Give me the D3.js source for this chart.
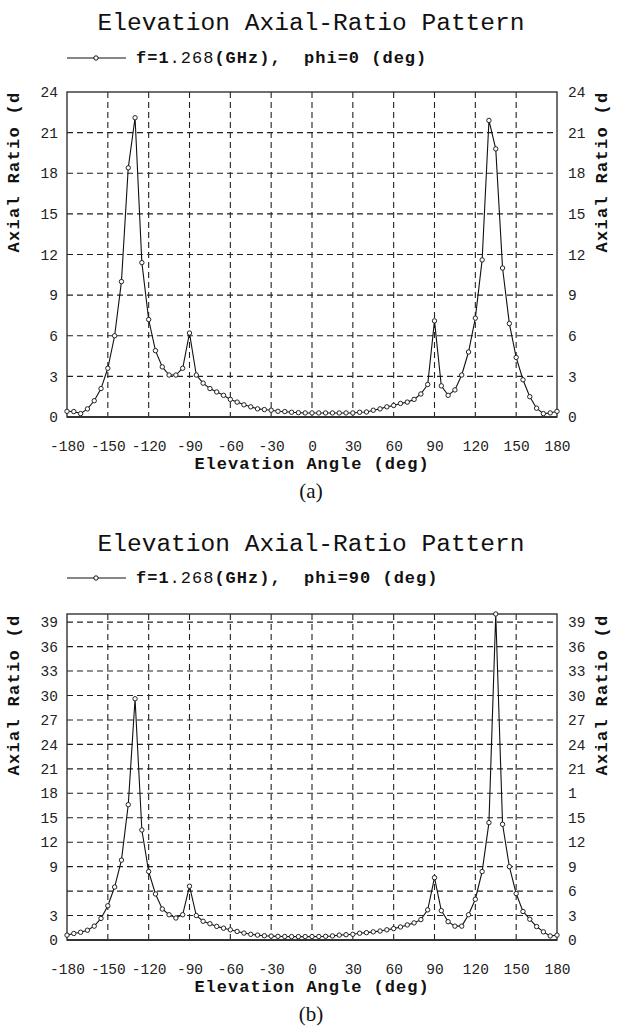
<!DOCTYPE html>
<html><head><meta charset="utf-8">
<script src="https://cdn.jsdelivr.net/npm/d3@7"></script>
<style>
html,body{margin:0;padding:0;background:#fff;}
svg{display:block;}
</style></head>
<body>
<script>
// ---- data ----
const angles = [-180,-175,-170,-165,-160,-155,-150,-145,-140,-135,-130,-125,-120,-115,-110,-105,-100,-95,-90,-85,-80,-75,-70,-65,-60,-55,-50,-45,-40,-35,-30,-25,-20,-15,-10,-5,0,5,10,15,20,25,30,35,40,45,50,55,60,65,70,75,80,85,90,95,100,105,110,115,120,125,130,135,140,145,150,155,160,165,170,175,180];
const axialRatioPhi0 = [0.42,0.4,0.25,0.6,1.2,2.1,3.6,6.0,10.0,18.4,22.1,11.4,7.2,4.9,3.7,3.1,3.1,3.6,6.2,3.1,2.5,2.1,1.85,1.6,1.3,1.1,0.9,0.75,0.6,0.55,0.5,0.42,0.4,0.35,0.32,0.3,0.3,0.3,0.3,0.3,0.3,0.3,0.3,0.35,0.37,0.5,0.6,0.75,0.85,1.0,1.1,1.3,1.7,2.4,7.1,2.3,1.6,2.0,3.1,4.8,7.3,11.6,21.9,19.8,11.0,6.9,4.4,2.75,1.5,0.65,0.25,0.3,0.42];
const axialRatioPhi90 = [0.6,0.8,0.95,1.2,1.7,2.65,4.2,6.5,9.8,16.6,29.6,13.5,8.4,5.65,3.8,3.1,2.7,3.1,6.6,3.0,2.3,2.0,1.67,1.45,1.25,1.05,0.85,0.7,0.6,0.52,0.48,0.45,0.43,0.42,0.42,0.42,0.42,0.43,0.45,0.5,0.6,0.65,0.7,0.83,0.9,1.0,1.1,1.25,1.4,1.6,1.85,2.1,2.5,3.7,7.65,3.6,2.25,1.7,1.7,3.1,5.0,8.4,14.4,40.0,14.2,9.0,5.7,3.5,2.55,1.65,1.0,0.5,0.6];
const xTicks = [-180,-150,-120,-90,-60,-30,0,30,60,90,120,150,180];
const yTicksA = [0,3,6,9,12,15,18,21,24];
const yLabelsA = ["0","3","6","9","12","15","18","21","24"];
const yTicksB = [0,3,6,9,12,15,18,21,24,27,30,33,36,39];
const yLabelsBLeft = ["0","3","","9","12","15","18","21","24","27","30","33","36","39"];
const yLabelsBRight = ["0","3","6","9","12","15","1","21","24","27","30","33","36","39"];
const titleText = "Elevation Axial-Ratio Pattern";
const xTitle = "Elevation Angle (deg)";
const yTitle = "Axial Ratio (d";
const legendA = ["f=1", ".268", "(GHz),  phi=0 (deg)"];
const legendB = ["f=1", ".268", "(GHz),  phi=90 (deg)"];

const W = 618, H = 1031;
const svg = d3.select("body").append("svg").attr("width", W).attr("height", H);
svg.append("rect").attr("width", W).attr("height", H).attr("fill", "#fff");

const MONO = "'Liberation Mono', 'DejaVu Sans Mono', monospace";

function drawChart(cfg) {
  const g = svg.append("g");
  const x = d3.scaleLinear().domain([-180, 180]).range([67, 557]);
  const y = d3.scaleLinear().domain([0, cfg.ymax]).range([cfg.bottom, cfg.top]);

  // title
  g.append("text").attr("x", 311).attr("y", cfg.titleY)
    .attr("text-anchor", "middle").attr("font-family", MONO)
    .attr("font-size", 23).attr("textLength", 427).attr("lengthAdjust", "spacingAndGlyphs")
    .attr("fill", "#111").text(titleText);

  // legend
  const ly = cfg.legendY;
  g.append("line").attr("x1", 67).attr("x2", 126).attr("y1", ly).attr("y2", ly)
    .attr("stroke", "#111").attr("stroke-width", 1.2);
  g.append("circle").attr("cx", 96).attr("cy", ly).attr("r", 2.2)
    .attr("fill", "#fff").attr("stroke", "#111").attr("stroke-width", 1);
  const lt = g.append("text").attr("x", 136).attr("y", ly + 5).attr("font-family", MONO)
    .attr("font-size", 17).attr("letter-spacing", 1.0).attr("fill", "#111")
    .attr("style", "white-space:pre");
  lt.append("tspan").attr("font-weight", "bold").text(cfg.legend[0]);
  lt.append("tspan").text(cfg.legend[1]);
  lt.append("tspan").attr("font-weight", "bold").text(cfg.legend[2]);

  // grid
  const grid = g.append("g").attr("stroke", "#222").attr("stroke-width", 1.1)
    .attr("stroke-dasharray", "6,4");
  xTicks.slice(1, -1).forEach(t => {
    grid.append("line").attr("x1", x(t)).attr("x2", x(t))
      .attr("y1", y(cfg.ymax)).attr("y2", y(0));
  });
  cfg.yTicks.forEach(t => {
    if (t === 0 || t >= cfg.ymax) return;
    grid.append("line").attr("x1", x(-180)).attr("x2", x(180))
      .attr("y1", y(t)).attr("y2", y(t));
  });

  // frame
  g.append("rect").attr("x", x(-180)).attr("y", y(cfg.ymax))
    .attr("width", x(180) - x(-180)).attr("height", y(0) - y(cfg.ymax))
    .attr("fill", "none").attr("stroke", "#333").attr("stroke-width", 1.4);
  g.append("line").attr("x1", x(-180)).attr("x2", x(180)).attr("y1", y(0)).attr("y2", y(0))
    .attr("stroke", "#333").attr("stroke-width", 2);

  // axes
  const xAxis = d3.axisBottom(x).tickValues(xTicks).tickSize(0).tickPadding(0)
    .tickFormat(d => String(d));
  const xa = g.append("g").attr("transform", `translate(0,${cfg.bottom + 34})`).call(xAxis);
  xa.select(".domain").remove();
  xa.selectAll("text").attr("font-family", MONO).attr("font-size", 14.5).attr("fill", "#222").attr("dy", 0);

  const labL = cfg.labelsLeft, labR = cfg.labelsRight;
  const yl = g.append("g").attr("transform", `translate(58,0)`)
    .call(d3.axisLeft(y).tickValues(cfg.yTicks).tickSize(0).tickPadding(0)
      .tickFormat((d, i) => labL[i]));
  yl.select(".domain").remove();
  yl.selectAll("text").attr("font-family", MONO).attr("font-size", 14.5).attr("fill", "#222");

  const yr = g.append("g").attr("transform", `translate(568,0)`)
    .call(d3.axisRight(y).tickValues(cfg.yTicks).tickSize(0).tickPadding(0)
      .tickFormat((d, i) => labR[i]));
  yr.select(".domain").remove();
  yr.selectAll("text").attr("font-family", MONO).attr("font-size", 14.5).attr("fill", "#222");

  // axis titles
  g.append("text").attr("x", 312).attr("y", cfg.bottom + 52).attr("text-anchor", "middle")
    .attr("font-family", MONO).attr("font-weight", "bold").attr("font-size", 17)
    .attr("letter-spacing", 1.0).attr("fill", "#111").text(xTitle);
  [19, 607].forEach(tx => {
    g.append("text").attr("transform", `translate(${tx},${cfg.yTitleMid}) rotate(-90)`)
      .attr("text-anchor", "middle").attr("font-family", MONO).attr("font-weight", "bold")
      .attr("font-size", 17).attr("letter-spacing", 1.3).attr("fill", "#111").text(yTitle);
  });

  // caption
  g.append("text").attr("x", 311).attr("y", cfg.bottom + 81).attr("text-anchor", "middle")
    .attr("font-family", "'Liberation Serif', serif").attr("font-size", 21)
    .attr("fill", "#111").text(cfg.caption);

  // series
  const pts = angles.map((a, i) => [a, cfg.values[i]]);
  const line = d3.line().x(d => x(d[0])).y(d => y(d[1]));
  g.append("path").datum(pts).attr("d", line).attr("fill", "none")
    .attr("stroke", "#111").attr("stroke-width", 1.1);
  g.append("g").selectAll("circle").data(pts).join("circle")
    .attr("cx", d => x(d[0])).attr("cy", d => y(d[1])).attr("r", 2.2)
    .attr("fill", "#fff").attr("stroke", "#222").attr("stroke-width", 1);
}

drawChart({ top: 92, bottom: 417, ymax: 24, yTicks: yTicksA, labelsLeft: yLabelsA, labelsRight: yLabelsA,
  values: axialRatioPhi0, titleY: 30, legendY: 58, legend: legendA, yTitleMid: 172, caption: "(a)" });
drawChart({ top: 614, bottom: 940, ymax: 40, yTicks: yTicksB, labelsLeft: yLabelsBLeft, labelsRight: yLabelsBRight,
  values: axialRatioPhi90, titleY: 551, legendY: 578, legend: legendB, yTitleMid: 695, caption: "(b)" });
</script>
</body></html>
